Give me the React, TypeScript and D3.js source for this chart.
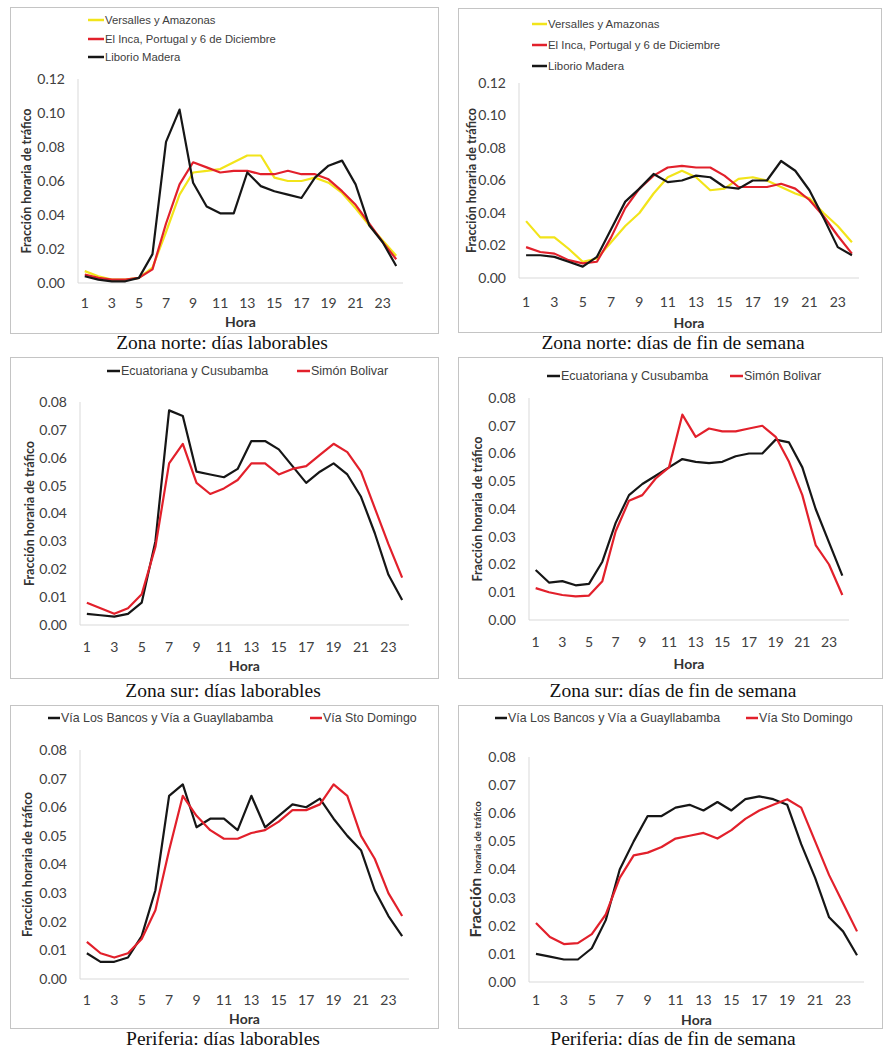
import React from "react";
import * as d3 from "d3";

// hours of the day (category axis) and the odd labels shown
const hours = [1, 2, 3, 4, 5, 6, 7, 8, 9, 10, 11, 12, 13, 14, 15, 16, 17, 18, 19, 20, 21, 22, 23, 24];
const hourLabels = [1, 3, 5, 7, 9, 11, 13, 15, 17, 19, 21, 23];
const yTicksNorte = [0, 0.02, 0.04, 0.06, 0.08, 0.1, 0.12];
const yTicksSur = [0, 0.01, 0.02, 0.03, 0.04, 0.05, 0.06, 0.07, 0.08];

// Zona norte
const versallesLab = [0.007, 0.004, 0.002, 0.002, 0.003, 0.009, 0.03, 0.052, 0.065, 0.066, 0.067, 0.071, 0.075, 0.075, 0.062, 0.06, 0.06, 0.062, 0.059, 0.053, 0.044, 0.034, 0.025, 0.016];
const elIncaLab = [0.005, 0.003, 0.002, 0.002, 0.003, 0.008, 0.035, 0.058, 0.071, 0.068, 0.065, 0.066, 0.066, 0.064, 0.064, 0.066, 0.064, 0.064, 0.061, 0.054, 0.046, 0.035, 0.024, 0.014];
const liborioLab = [0.004, 0.002, 0.001, 0.001, 0.003, 0.017, 0.083, 0.102, 0.059, 0.045, 0.041, 0.041, 0.065, 0.057, 0.054, 0.052, 0.05, 0.062, 0.069, 0.072, 0.058, 0.034, 0.024, 0.01];
const versallesFin = [0.035, 0.025, 0.025, 0.018, 0.01, 0.012, 0.022, 0.032, 0.04, 0.052, 0.062, 0.066, 0.062, 0.054, 0.055, 0.061, 0.062, 0.06, 0.056, 0.052, 0.049, 0.04, 0.032, 0.022];
const elIncaFin = [0.019, 0.016, 0.015, 0.011, 0.009, 0.01, 0.025, 0.043, 0.055, 0.063, 0.068, 0.069, 0.068, 0.068, 0.063, 0.056, 0.056, 0.056, 0.058, 0.055, 0.048, 0.038, 0.026, 0.015];
const liborioFin = [0.014, 0.014, 0.013, 0.01, 0.007, 0.013, 0.03, 0.047, 0.055, 0.064, 0.059, 0.06, 0.063, 0.062, 0.056, 0.055, 0.06, 0.06, 0.072, 0.066, 0.054, 0.037, 0.019, 0.014];

// Zona sur
const ecuatorianaLab = [0.004, 0.0035, 0.003, 0.004, 0.008, 0.03, 0.077, 0.075, 0.055, 0.054, 0.053, 0.056, 0.066, 0.066, 0.063, 0.057, 0.051, 0.055, 0.058, 0.054, 0.046, 0.033, 0.018, 0.009];
const simonLab = [0.008, 0.006, 0.004, 0.006, 0.011, 0.028, 0.058, 0.065, 0.051, 0.047, 0.049, 0.052, 0.058, 0.058, 0.054, 0.056, 0.057, 0.061, 0.065, 0.062, 0.055, 0.042, 0.029, 0.017];
const ecuatorianaFin = [0.018, 0.0135, 0.014, 0.0125, 0.013, 0.021, 0.035, 0.045, 0.049, 0.052, 0.055, 0.058, 0.057, 0.0565, 0.057, 0.059, 0.06, 0.06, 0.065, 0.064, 0.055, 0.04, 0.028, 0.016];
const simonFin = [0.0115, 0.01, 0.009, 0.0085, 0.0088, 0.014, 0.032, 0.043, 0.045, 0.051, 0.055, 0.074, 0.066, 0.069, 0.068, 0.068, 0.069, 0.07, 0.066, 0.057, 0.045, 0.027, 0.02, 0.009];

// Periferia
const bancosLab = [0.009, 0.006, 0.006, 0.0075, 0.015, 0.031, 0.064, 0.068, 0.053, 0.056, 0.056, 0.052, 0.064, 0.053, 0.057, 0.061, 0.06, 0.063, 0.056, 0.05, 0.045, 0.031, 0.022, 0.015];
const domingoLab = [0.013, 0.009, 0.0075, 0.009, 0.014, 0.024, 0.045, 0.064, 0.057, 0.052, 0.049, 0.049, 0.051, 0.052, 0.055, 0.059, 0.059, 0.061, 0.068, 0.064, 0.05, 0.042, 0.03, 0.022];
const bancosFin = [0.01, 0.009, 0.008, 0.008, 0.012, 0.022, 0.04, 0.05, 0.059, 0.059, 0.062, 0.063, 0.061, 0.064, 0.061, 0.065, 0.066, 0.065, 0.063, 0.049, 0.037, 0.023, 0.018, 0.0095];
const domingoFin = [0.021, 0.016, 0.0135, 0.0138, 0.017, 0.024, 0.037, 0.045, 0.046, 0.048, 0.051, 0.052, 0.053, 0.051, 0.054, 0.058, 0.061, 0.063, 0.065, 0.062, 0.05, 0.038, 0.028, 0.018];

const RED = "#e2202b";
const BLACK = "#161616";
const YELLOW = "#f2e41a";

const TICK_FONT = "Lato, 'Open Sans', sans-serif";
const LEGEND_FONT = "'Liberation Sans', Arial, sans-serif";
const CAPTION_FONT = "'Liberation Serif', 'Times New Roman', serif";

const norteSeries = (a, b, c) => [
  { name: "Versalles y Amazonas", values: a, color: YELLOW },
  { name: "El Inca, Portugal y 6 de Diciembre", values: b, color: RED },
  { name: "Liborio Madera", values: c, color: BLACK },
];
const surSeries = (a, b) => [
  { name: "Ecuatoriana y Cusubamba", values: a, color: BLACK },
  { name: "Simón Bolivar", values: b, color: RED },
];
const perifSeries = (a, b) => [
  { name: "Vía Los Bancos y Vía a Guayllabamba", values: a, color: BLACK },
  { name: "Vía Sto Domingo", values: b, color: RED },
];

const panels = [
  {
    box: [10, 7, 438, 333], left: 78, right: 403, top: 79, bottom: 283, yMax: 0.12, yTicks: yTicksNorte,
    series: norteSeries(versallesLab, elIncaLab, liborioLab),
    legend: { stack: true, x: 88, ys: [20, 39, 57], size: 11.3, sw: 16 },
    caption: "Zona norte: días laborables", capX: 222, capY: 349, yTitleX: 27, tickY: 303, horaY: 322,
  },
  {
    box: [458, 8, 881, 332], left: 519, right: 859, top: 83, bottom: 278, yMax: 0.12, yTicks: yTicksNorte,
    series: norteSeries(versallesFin, elIncaFin, liborioFin),
    legend: { stack: true, x: 532, ys: [24, 45, 66], size: 11.4, sw: 15 },
    caption: "Zona norte: días de fin de semana", capX: 673, capY: 349, yTitleX: 472, tickY: 302, horaY: 323,
  },
  {
    box: [10, 357, 438, 678], left: 80, right: 409, top: 402, bottom: 625, yMax: 0.08, yTicks: yTicksSur,
    series: surSeries(ecuatorianaLab, simonLab),
    legend: { stack: false, xs: [107, 297], y: 371, size: 12.5, sw: 13 },
    caption: "Zona sur: días laborables", capX: 223, capY: 697, yTitleX: 30, tickY: 647, horaY: 666,
  },
  {
    box: [458, 357, 882, 678], left: 529, right: 849, top: 398, bottom: 620, yMax: 0.08, yTicks: yTicksSur,
    series: surSeries(ecuatorianaFin, simonFin),
    legend: { stack: false, xs: [547, 730], y: 376, size: 12.5, sw: 13 },
    caption: "Zona sur: días de fin de semana", capX: 673, capY: 697, yTitleX: 478, tickY: 642, horaY: 664,
  },
  {
    box: [10, 705, 438, 1028], left: 80, right: 409, top: 750, bottom: 979, yMax: 0.08, yTicks: yTicksSur,
    series: perifSeries(bancosLab, domingoLab),
    legend: { stack: false, xs: [48, 310], y: 718, size: 12.4, sw: 12 },
    caption: "Periferia: días laborables", capX: 223, capY: 1045, yTitleX: 28, tickY: 1000, horaY: 1019,
  },
  {
    box: [458, 705, 882, 1028], left: 529, right: 864, top: 757, bottom: 982, yMax: 0.08, yTicks: yTicksSur,
    series: perifSeries(bancosFin, domingoFin),
    legend: { stack: false, xs: [495, 746], y: 718, size: 12.4, sw: 12 },
    caption: "Periferia: días de fin de semana", capX: 673, capY: 1045, yTitleX: 477, tickY: 1000, horaY: 1020,
    splitTitle: true,
  },
];

const Panel = ({ p }) => {
  const x = d3.scaleBand().domain(hours.map(String)).range([p.left, p.right]);
  const y = d3.scaleLinear().domain([0, p.yMax]).range([p.bottom, p.top]);
  const cx = (h) => x(String(h)) + x.bandwidth() / 2;
  const line = d3
    .line()
    .x((d, i) => cx(hours[i]))
    .y((d) => y(d));
  const fmt = d3.format(".2f");
  const midY = (p.top + p.bottom) / 2;
  const [bx0, by0, bx1, by1] = p.box;

  return (
    <g>
      <rect x={bx0 + 0.5} y={by0 + 0.5} width={bx1 - bx0} height={by1 - by0} fill="#fff" stroke="#c4c4c4" />
      {/* axes */}
      <line x1={p.left} x2={p.left} y1={y(p.yMax)} y2={p.bottom} stroke="#d9d9d9" />
      <line x1={p.left} x2={p.right} y1={p.bottom} y2={p.bottom} stroke="#d9d9d9" />
      {p.yTicks.map((t) => (
        <text key={t} x={p.left - 13} y={y(t)} dy="0.35em" textAnchor="end" fontFamily={TICK_FONT} fontSize={14} fill="#404040">
          {fmt(t)}
        </text>
      ))}
      {hourLabels.map((h) => (
        <text key={h} x={cx(h)} y={p.tickY} dy="0.35em" textAnchor="middle" fontFamily={TICK_FONT} fontSize={14} fill="#404040">
          {h}
        </text>
      ))}
      <text x={(p.left + p.right) / 2} y={p.horaY} dy="0.35em" textAnchor="middle" fontFamily={TICK_FONT} fontWeight="bold" fontSize={14} fill="#333">
        Hora
      </text>
      <text
        transform={`translate(${p.yTitleX},${midY}) rotate(-90)`}
        dy="0.35em"
        textAnchor="middle"
        fontFamily={TICK_FONT}
        fontWeight="bold"
        fontSize={12.5}
        fill="#333"
      >
        {p.splitTitle ? (
          <>
            <tspan fontSize={16}>Fracción </tspan>
            <tspan fontSize={9.5}>horaria de tráfico</tspan>
          </>
        ) : (
          "Fracción horaria de tráfico"
        )}
      </text>
      {/* series */}
      {p.series.map((s) => (
        <path key={s.name} d={line(s.values)} fill="none" stroke={s.color} strokeWidth={2.2} strokeLinejoin="round" />
      ))}
      {/* legend */}
      {p.series.map((s, i) => {
        const lx = p.legend.stack ? p.legend.x : p.legend.xs[i];
        const ly = p.legend.stack ? p.legend.ys[i] : p.legend.y;
        return (
          <g key={s.name}>
            <line x1={lx} x2={lx + p.legend.sw} y1={ly} y2={ly} stroke={s.color} strokeWidth={2.5} />
            <text x={lx + p.legend.sw + 1} y={ly} dy="0.35em" fontFamily={LEGEND_FONT} fontSize={p.legend.size} fill="#404040">
              {s.name}
            </text>
          </g>
        );
      })}
      <text x={p.capX} y={p.capY} textAnchor="middle" fontFamily={CAPTION_FONT} fontSize={19.5} fill="#111">
        {p.caption}
      </text>
    </g>
  );
};

export default function App() {
  return (
    <div style={{ position: "absolute", left: 0, top: 0 }}>
      <svg width={884} height={1050} style={{ display: "block", background: "#fff" }}>
        {panels.map((p, i) => (
          <Panel key={i} p={p} />
        ))}
      </svg>
    </div>
  );
}
